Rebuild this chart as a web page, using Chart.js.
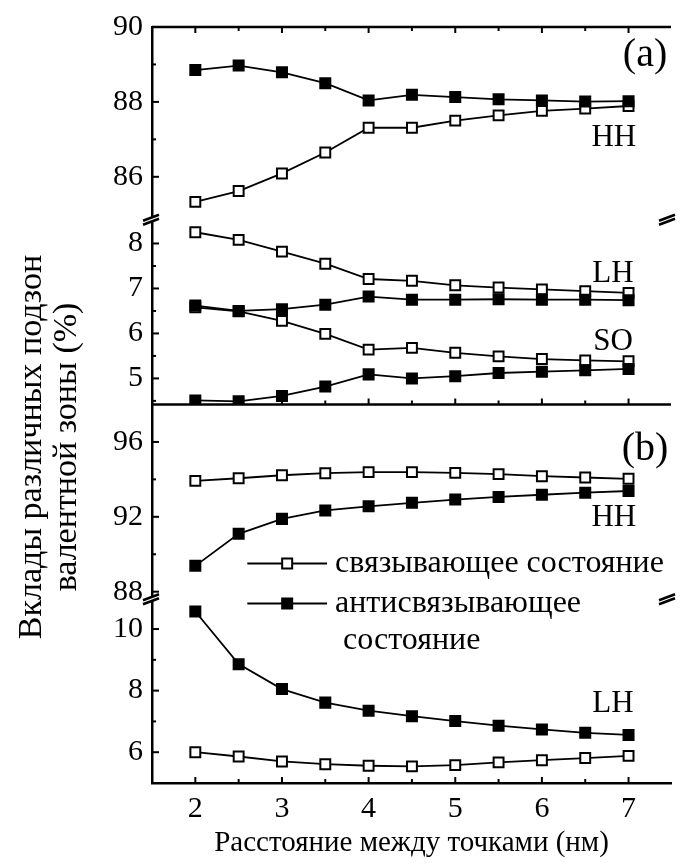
<!DOCTYPE html>
<html>
<head>
<meta charset="utf-8">
<script src="https://cdn.jsdelivr.net/npm/chart.js@4.4.0/dist/chart.umd.min.js"></script>
<style>
  body { margin: 0; background: #fff; }
  #wrap { width: 680px; height: 863px; }
</style>
</head>
<body>
<div id="wrap"><canvas id="chart" width="680" height="863"></canvas></div>
<script>
// distance between dots, nm
const distances = [2, 2.5, 3, 3.5, 4, 4.5, 5, 5.5, 6, 6.5, 7];

// panel (a): open = bonding, filled = antibonding
const hhBondA = [85.33, 85.62, 86.09, 86.65, 87.31, 87.31, 87.50, 87.64, 87.76, 87.82, 87.89];
const hhAntiA = [88.85, 88.97, 88.79, 88.50, 88.04, 88.19, 88.13, 88.07, 88.04, 88.01, 88.02];
const lhBondA = [8.25, 8.08, 7.82, 7.55, 7.21, 7.17, 7.07, 7.02, 6.98, 6.94, 6.90];
const lhAntiA = [6.62, 6.50, 6.54, 6.64, 6.82, 6.75, 6.75, 6.76, 6.75, 6.75, 6.74];
const soBondA = [6.58, 6.49, 6.28, 5.99, 5.64, 5.68, 5.57, 5.49, 5.43, 5.40, 5.38];
const soAntiA = [4.51, 4.49, 4.61, 4.82, 5.09, 5.00, 5.05, 5.12, 5.15, 5.18, 5.21];

// panel (b)
const hhBondB = [93.92, 94.06, 94.22, 94.33, 94.39, 94.39, 94.35, 94.28, 94.17, 94.10, 94.03];
const hhAntiB = [89.38, 91.09, 91.89, 92.34, 92.56, 92.75, 92.92, 93.06, 93.18, 93.29, 93.38];
const lhBondB = [6.00, 5.86, 5.70, 5.61, 5.56, 5.54, 5.58, 5.67, 5.74, 5.81, 5.88];
const lhAntiB = [10.57, 8.86, 8.05, 7.61, 7.35, 7.17, 7.01, 6.86, 6.74, 6.63, 6.56];

// ticks
const xTicks = [2, 3, 4, 5, 6, 7];
const xMinor = [2.5, 3.5, 4.5, 5.5, 6.5];
const ticksA1 = [86, 88, 90], minorA1 = [87, 89];
const ticksA2 = [5, 6, 7, 8], minorA2 = [4.5, 5.5, 6.5, 7.5];
const ticksB1 = [88, 92, 96], minorB1 = [90, 94];
const ticksB2 = [6, 8, 10], minorB2 = [7, 9];

const legendNames = ['связывающее состояние', 'антисвязывающее', ' состояние'];
const yTitle = ['Вклады различных подзон', 'валентной зоны (%)'];
const xTitle = 'Расстояние между точками (нм)';

const FONT = 'Liberation Serif';
const tickFont = { family: FONT, size: 30 };

function series(data, axis, filled) {
    return {
        data: distances.map((x, i) => ({ x: x, y: data[i] })),
        yAxisID: axis,
        borderColor: '#000',
        borderWidth: 1.8,
        pointStyle: 'rect',
        pointRadius: filled ? 8.5 : 7,
        pointBackgroundColor: filled ? '#000' : '#fff',
        pointBorderColor: '#000',
        pointBorderWidth: filled ? 0 : 2,
        tension: 0,
        fill: false
    };
}

function yScale(min, max, major, weight) {
    return {
        type: 'linear',
        position: 'left',
        stack: 'panels',
        stackWeight: weight,
        min: min,
        max: max,
        grid: { display: false, drawTicks: false },
        border: { display: true, color: '#000', width: 2.5 },
        ticks: { color: '#000', font: tickFont, padding: 9, autoSkip: false },
        afterBuildTicks: s => { s.ticks = major.map(v => ({ value: v })); },
        afterFit: s => { s.width = 52; }
    };
}

function line(ctx, x1, y1, x2, y2) {
    ctx.beginPath();
    ctx.moveTo(x1, y1);
    ctx.lineTo(x2, y2);
    ctx.stroke();
}

function breakMark(ctx, x, y) {
    ctx.save();
    ctx.fillStyle = '#fff';
    ctx.beginPath();
    ctx.moveTo(x - 9, y + 2);
    ctx.lineTo(x + 7, y - 4);
    ctx.lineTo(x + 7, y);
    ctx.lineTo(x - 9, y + 6);
    ctx.closePath();
    ctx.fill();
    ctx.lineWidth = 2.5;
    line(ctx, x - 9, y + 2, x + 7, y - 4);
    line(ctx, x - 9, y + 6, x + 7, y);
    ctx.restore();
}

const decor = {
    id: 'decor',
    afterDraw(chart) {
        const { ctx, chartArea: a, scales } = chart;
        const sx = scales.x;
        ctx.save();
        ctx.strokeStyle = '#000';
        ctx.fillStyle = '#000';

        // top frame and line between panels
        ctx.lineWidth = 2.5;
        line(ctx, a.left, a.top, a.right, a.top);
        const sep = scales.yB1.top;
        line(ctx, a.left, sep, a.right, sep);

        // inward ticks on x
        ctx.lineWidth = 2;
        xTicks.concat(xMinor).forEach(v => {
            const px = sx.getPixelForValue(v);
            const len = xTicks.includes(v) ? 6 : 4;
            line(ctx, px, a.top, px, a.top + len);
            line(ctx, px, sep, px, sep - len);
            line(ctx, px, a.bottom, px, a.bottom - len);
        });

        // inward ticks on y
        [['yA1', ticksA1, minorA1], ['yA2', ticksA2, minorA2],
         ['yB1', ticksB1, minorB1], ['yB2', ticksB2, minorB2]].forEach(([id, maj, min]) => {
            const s = scales[id];
            maj.forEach(v => { const py = s.getPixelForValue(v); line(ctx, a.left, py, a.left + 7, py); });
            min.forEach(v => { const py = s.getPixelForValue(v); line(ctx, a.left, py, a.left + 4, py); });
        });

        // axis breaks
        breakMark(ctx, a.left, scales.yA1.bottom);
        breakMark(ctx, a.left, scales.yB2.top);
        breakMark(ctx, a.right - 3, scales.yA1.bottom);
        breakMark(ctx, a.right - 3, scales.yB2.top);

        // curve labels
        ctx.textAlign = 'center';
        ctx.textBaseline = 'middle';
        ctx.font = '31px "' + FONT + '"';
        [['HH', 6.83, 'yA1', 87.05], ['LH', 6.82, 'yA2', 7.33], ['SO', 6.82, 'yA2', 5.82],
         ['HH', 6.83, 'yB1', 91.95], ['LH', 6.82, 'yB2', 7.58]].forEach(([t, x, id, y]) => {
            ctx.fillText(t, sx.getPixelForValue(x), scales[id].getPixelForValue(y));
        });
        ctx.font = '40px "' + FONT + '"';
        ctx.fillText('(a)', sx.getPixelForValue(7.19), scales.yA1.getPixelForValue(89.25));
        ctx.fillText('(b)', sx.getPixelForValue(7.19), scales.yB1.getPixelForValue(95.57));

        // legend
        const lx1 = sx.getPixelForValue(2.6), lx2 = sx.getPixelForValue(3.52);
        const mx = (lx1 + lx2) / 2;
        const tx = lx2 + 8;
        const ly = [sep + 159, sep + 199, sep + 236];
        ctx.lineWidth = 1.8;
        line(ctx, lx1, ly[0], lx2, ly[0]);
        line(ctx, lx1, ly[1], lx2, ly[1]);
        ctx.fillStyle = '#fff';
        ctx.fillRect(mx - 5, ly[0] - 5, 10, 10);
        ctx.lineWidth = 2;
        ctx.strokeRect(mx - 5, ly[0] - 5, 10, 10);
        ctx.fillStyle = '#000';
        ctx.fillRect(mx - 6, ly[1] - 6, 12, 12);
        ctx.textAlign = 'left';
        ctx.font = '32px "' + FONT + '"';
        ctx.fillText(legendNames[0], tx, ly[0]);
        ctx.fillText(legendNames[1], tx, ly[1]);
        ctx.fillText(legendNames[2], tx, ly[2]);

        // y title
        ctx.save();
        ctx.translate(0, 447);
        ctx.rotate(-Math.PI / 2);
        ctx.textAlign = 'center';
        ctx.font = '34px "' + FONT + '"';
        ctx.fillText(yTitle[0], 0, 32);
        ctx.fillText(yTitle[1], 0, 67);
        ctx.restore();

        ctx.restore();
    }
};

new Chart(document.getElementById('chart'), {
    type: 'line',
    data: {
        datasets: [
            series(hhAntiA, 'yA1', true),
            series(lhAntiA, 'yA2', true),
            series(soAntiA, 'yA2', true),
            series(hhAntiB, 'yB1', true),
            series(lhAntiB, 'yB2', true),
            series(hhBondA, 'yA1', false),
            series(lhBondA, 'yA2', false),
            series(soBondA, 'yA2', false),
            series(hhBondB, 'yB1', false),
            series(lhBondB, 'yB2', false)
        ]
    },
    options: {
        responsive: false,
        animation: false,
        devicePixelRatio: 1,
        layout: { padding: { left: 100, right: 0, top: 26, bottom: 0 } },
        plugins: { legend: { display: false }, tooltip: { enabled: false } },
        scales: {
            x: {
                type: 'linear',
                min: 1.5,
                max: 7.49,
                grid: { display: false, drawTicks: false },
                border: { display: true, color: '#000', width: 2.5 },
                ticks: { color: '#000', font: tickFont, padding: 8, autoSkip: false },
                title: { display: true, text: xTitle, color: '#000', font: { family: FONT, size: 29 }, padding: { top: 0, bottom: 2 } },
                afterBuildTicks: s => { s.ticks = xTicks.map(v => ({ value: v })); },
                afterFit: s => { s.height = 80; }
            },
            // stacked left axes, listed bottom to top
            yB2: yScale(5, 11, ticksB2, 185),
            yB1: yScale(87.65, 98, ticksB1, 194),
            yA2: yScale(4.42, 8.55, ticksA2, 186),
            yA1: yScale(84.88, 90, ticksA1, 192)
        }
    },
    plugins: [decor]
});
</script>
</body>
</html>
